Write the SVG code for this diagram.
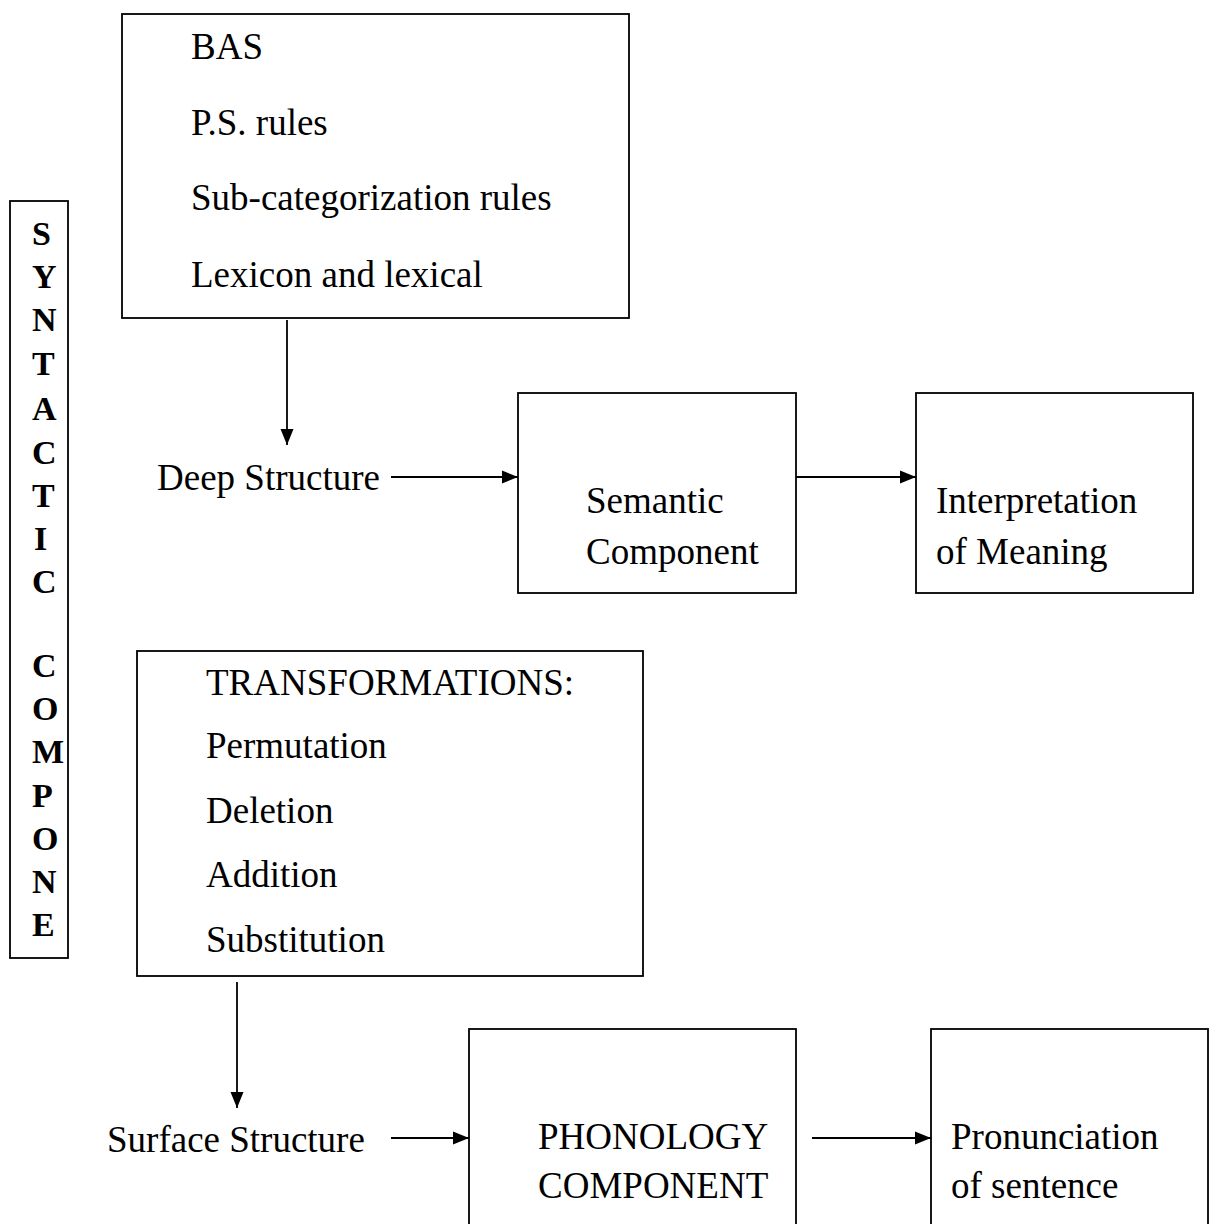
<svg xmlns="http://www.w3.org/2000/svg" width="1210" height="1224" viewBox="0 0 1210 1224">
  <style>
    .box { fill: #ffffff; stroke: #000000; stroke-width: 1.8; }
    .t { font-family: "Liberation Serif", "Times New Roman", serif; font-size: 37px; fill: #000000; }
    .v { font-family: "Liberation Serif", "Times New Roman", serif; font-size: 34px; font-weight: bold; fill: #000000; }
    .c { stroke: #000000; stroke-width: 1.8; fill: none; marker-end: url(#ah); }
  </style>
  <defs>
    <marker id="ah" markerUnits="userSpaceOnUse" markerWidth="17" markerHeight="14" refX="16" refY="7" orient="auto">
      <path d="M0,0.5 L16,7 L0,13.5 Z" fill="#000000"/>
    </marker>
  </defs>
  <rect width="1210" height="1224" fill="#ffffff"/>

  <g id="syntactic-component">
    <rect class="box" x="10" y="201" width="58" height="757"/>
    <text class="v" x="32" y="245">S</text>
    <text class="v" x="32" y="288">Y</text>
    <text class="v" x="32" y="331">N</text>
    <text class="v" x="32" y="375">T</text>
    <text class="v" x="32" y="420">A</text>
    <text class="v" x="32" y="464">C</text>
    <text class="v" x="32" y="507">T</text>
    <text class="v" x="34" y="550">I</text>
    <text class="v" x="32" y="593">C</text>
    <text class="v" x="32" y="677">C</text>
    <text class="v" x="32" y="720">O</text>
    <text class="v" x="32" y="763">M</text>
    <text class="v" x="32" y="807">P</text>
    <text class="v" x="32" y="850">O</text>
    <text class="v" x="32" y="893">N</text>
    <text class="v" x="32" y="936">E</text>
  </g>

  <g id="base">
    <rect class="box" x="122" y="14" width="507" height="304"/>
    <text class="t" x="191" y="59">BAS</text>
    <text class="t" x="191" y="135">P.S. rules</text>
    <text class="t" x="191" y="210">Sub-categorization rules</text>
    <text class="t" x="191" y="287">Lexicon and lexical</text>
  </g>

  <g id="deep-structure">
    <text class="t" x="157" y="490">Deep Structure</text>
  </g>

  <g id="semantic-component">
    <rect class="box" x="518" y="393" width="278" height="200"/>
    <text class="t" x="586" y="513">Semantic</text>
    <text class="t" x="586" y="564">Component</text>
  </g>

  <g id="interpretation">
    <rect class="box" x="916" y="393" width="277" height="200"/>
    <text class="t" x="936" y="513">Interpretation</text>
    <text class="t" x="936" y="564">of Meaning</text>
  </g>

  <g id="transformations">
    <rect class="box" x="137" y="651" width="506" height="325"/>
    <text class="t" x="206" y="695">TRANSFORMATIONS:</text>
    <text class="t" x="206" y="758">Permutation</text>
    <text class="t" x="206" y="823">Deletion</text>
    <text class="t" x="206" y="887">Addition</text>
    <text class="t" x="206" y="952">Substitution</text>
  </g>

  <g id="surface-structure">
    <text class="t" x="107" y="1152">Surface Structure</text>
  </g>

  <g id="phonology-component">
    <rect class="box" x="469" y="1029" width="327" height="210"/>
    <text class="t" x="538" y="1149">PHONOLOGY</text>
    <text class="t" x="538" y="1198">COMPONENT</text>
  </g>

  <g id="pronunciation">
    <rect class="box" x="931" y="1029" width="277" height="210"/>
    <text class="t" x="951" y="1149">Pronunciation</text>
    <text class="t" x="951" y="1198">of sentence</text>
  </g>

  <g id="connectors">
    <line class="c" x1="287" y1="320" x2="287" y2="445"/>
    <line class="c" x1="391" y1="477" x2="518" y2="477"/>
    <line class="c" x1="796" y1="477" x2="916" y2="477"/>
    <line class="c" x1="237" y1="982" x2="237" y2="1108"/>
    <line class="c" x1="391" y1="1138" x2="469" y2="1138"/>
    <line class="c" x1="812" y1="1138" x2="931" y2="1138"/>
  </g>
</svg>
